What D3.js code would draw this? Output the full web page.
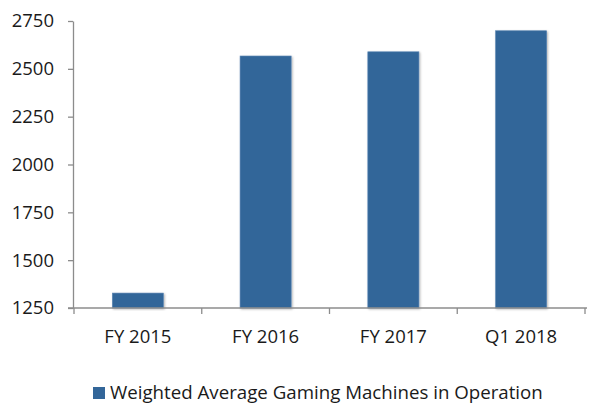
<!DOCTYPE html>
<html>
<head>
<meta charset="utf-8">
<script src="https://cdn.jsdelivr.net/npm/d3@7"></script>
<style>
  body { margin: 0; background: #fff; }
  text { font-family: "Open Sans", sans-serif; fill: #1a1a1a; }
</style>
</head>
<body>
<div id="chart"></div>
<script>
const categories = ["FY 2015", "FY 2016", "FY 2017", "Q1 2018"];
const values = [1328, 2567, 2589, 2699];
const yTicks = [1250, 1500, 1750, 2000, 2250, 2500, 2750];
const seriesName = "Weighted Average Gaming Machines in Operation";

const width = 589, height = 403;
const margin = { top: 21, right: 4, bottom: 95, left: 74 };

const svg = d3.select("#chart").append("svg")
  .attr("width", width)
  .attr("height", height);

const defs = svg.append("defs");
const shadow = defs.append("filter").attr("id", "shadow")
  .attr("x", "-20%").attr("y", "-20%").attr("width", "140%").attr("height", "140%");
shadow.append("feDropShadow")
  .attr("dx", 1).attr("dy", 1).attr("stdDeviation", 1.2)
  .attr("flood-color", "#000").attr("flood-opacity", 0.3);

const x = d3.scaleBand()
  .domain(categories)
  .range([margin.left, width - margin.right])
  .paddingInner(0.6)
  .paddingOuter(0.3);

const y = d3.scaleLinear()
  .domain([1250, 2750])
  .range([height - margin.bottom, margin.top]);

// bars
svg.append("g")
  .selectAll("rect")
  .data(values)
  .join("rect")
    .attr("x", (d, i) => x(categories[i]))
    .attr("y", d => y(d))
    .attr("width", x.bandwidth())
    .attr("height", d => y(1250) - y(d))
    .attr("fill", "#336699")
    .attr("stroke", "#5a85b3")
    .attr("stroke-width", 0.6)
    .attr("filter", "url(#shadow)");

// y axis
const yAxis = svg.append("g")
  .attr("transform", `translate(${margin.left - 1},0)`)
  .call(d3.axisLeft(y).tickValues(yTicks).tickFormat(d3.format("d"))
    .tickSize(5).tickPadding(14).tickSizeOuter(0));
yAxis.select(".domain").attr("stroke", "#8c8c8c").attr("stroke-width", 1.3);
yAxis.selectAll(".tick line").attr("stroke", "#8c8c8c").attr("stroke-width", 1.3);
yAxis.selectAll("text").style("font-size", "18.5px").attr("fill", "#1a1a1a");

// x axis (tick marks on category boundaries)
const xAxisG = svg.append("g")
  .attr("transform", `translate(0,${y(1250)})`);
xAxisG.append("line")
  .attr("x1", margin.left - 6).attr("x2", width - margin.right + 2)
  .attr("stroke", "#8c8c8c").attr("stroke-width", 1.3);
const bounds = d3.range(categories.length + 1).map(i => margin.left + i * (width - margin.right - margin.left) / categories.length);
xAxisG.selectAll(".bound")
  .data(bounds)
  .join("line")
    .attr("x1", d => d).attr("x2", d => d)
    .attr("y1", 0).attr("y2", 6)
    .attr("stroke", "#8c8c8c").attr("stroke-width", 1.3);
xAxisG.selectAll(".lbl")
  .data(categories)
  .join("text")
    .attr("x", d => x(d) + x.bandwidth() / 2)
    .attr("y", 35)
    .attr("text-anchor", "middle")
    .style("font-size", "18.5px")
    .text(d => d);

// legend
const legend = svg.append("g").attr("transform", "translate(93,387)");
legend.append("rect")
  .attr("width", 12).attr("height", 12)
  .attr("fill", "#336699");
legend.append("text")
  .attr("x", 17).attr("y", 12)
  .style("font-size", "18.7px")
  .text(seriesName);
</script>
</body>
</html>
